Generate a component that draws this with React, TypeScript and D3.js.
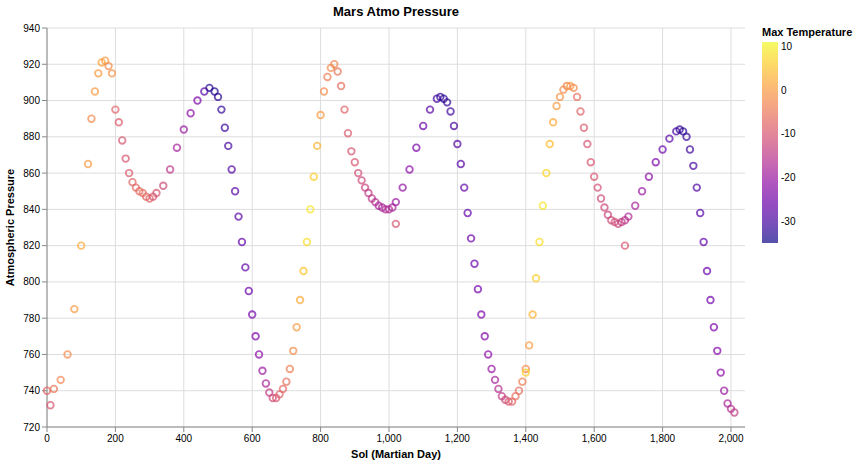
import * as d3 from "d3"

// [sol, pressure, max temperature], one array per season phase
const riseA: [number, number, number][] = [
  [0, 740, -8], [10, 732, -10], [20, 741, -5], [40, 746, -3], [60, 760, -2], [80, 785, 0], [100, 820, 2],
  [120, 865, 0], [130, 890, -2], [140, 905, 0], [150, 915, 0], [160, 921, 1], [170, 922, 0],
  [180, 919, -2], [190, 915, -1],
]
const fallB: [number, number, number][] = [
  [200, 895, -8], [210, 888, -9], [220, 878, -10], [230, 868, -10], [240, 860, -9], [250, 855, -8],
  [260, 852, -7], [270, 850, -7], [280, 849, -6], [290, 847, -7], [300, 846, -8], [310, 847, -10],
]
const riseC: [number, number, number][] = [
  [320, 849, -10], [340, 853, -12], [360, 862, -15], [380, 874, -18], [400, 884, -20], [420, 893, -22],
  [440, 900, -24], [460, 905, -28], [475, 907, -33], [490, 905, -34],
]
const fallD: [number, number, number][] = [
  [500, 902, -33], [510, 895, -32], [520, 885, -31], [530, 875, -30], [540, 862, -29], [550, 850, -28],
  [560, 836, -28], [570, 822, -27], [580, 808, -27], [590, 795, -26], [600, 782, -25], [610, 770, -24],
  [620, 760, -22], [630, 751, -20], [640, 744, -18], [650, 739, -14], [660, 736, -12], [670, 736, -10],
  [680, 738, -8], [690, 741, -7],
]
const riseE: [number, number, number][] = [
  [700, 745, -6], [710, 752, -4], [720, 762, -2], [730, 775, 0], [740, 790, 2], [750, 806, 5],
  [760, 822, 8], [770, 840, 9], [780, 858, 6], [790, 875, 3], [800, 892, 0], [810, 905, -2],
  [820, 913, -4], [830, 918, -2], [840, 920, -3], [850, 916, -5],
]
const fallF: [number, number, number][] = [
  [860, 908, -6], [870, 895, -8], [880, 882, -9], [890, 872, -10], [900, 866, -10], [910, 860, -11],
  [920, 856, -12], [930, 852, -13], [940, 849, -14], [950, 846, -15], [960, 844, -16], [970, 842, -18],
  [980, 841, -18], [990, 840, -17], [1000, 840, -17], [1010, 841, -18], [1020, 832, -10],
]
const riseG: [number, number, number][] = [
  [1020, 844, -20], [1040, 852, -21], [1060, 862, -22], [1080, 874, -24], [1100, 886, -26],
  [1120, 895, -28], [1140, 901, -30], [1150, 902, -32], [1160, 901, -33],
]
const fallH: [number, number, number][] = [
  [1170, 899, -32], [1180, 894, -31], [1190, 886, -30], [1200, 876, -29], [1210, 865, -28],
  [1220, 852, -27], [1230, 838, -27], [1240, 824, -26], [1250, 810, -26], [1260, 796, -25],
  [1270, 782, -24], [1280, 770, -23], [1290, 760, -22], [1300, 752, -20], [1310, 746, -18],
  [1320, 741, -16], [1330, 737, -14], [1340, 735, -12], [1350, 734, -10], [1360, 734, -8], [1370, 737, -6],
]
const riseI: [number, number, number][] = [
  [1380, 740, -6], [1390, 745, -4], [1400, 752, -2], [1400, 750, 6], [1410, 765, 0], [1420, 782, 3],
  [1430, 802, 6], [1440, 822, 8], [1450, 842, 9], [1460, 860, 7], [1470, 876, 4], [1480, 888, 2],
  [1490, 897, 0], [1500, 902, -1], [1510, 906, -2], [1520, 908, -3], [1530, 908, 0], [1540, 907, -2],
]
const fallJ: [number, number, number][] = [
  [1550, 902, -6], [1560, 894, -8], [1570, 885, -9], [1580, 876, -10], [1590, 866, -10], [1600, 858, -10],
  [1610, 852, -11], [1620, 846, -12], [1630, 841, -12], [1640, 837, -13], [1650, 834, -12],
  [1660, 833, -11], [1670, 832, -12], [1680, 833, -14], [1690, 834, -15], [1690, 820, -10],
]
const riseK: [number, number, number][] = [
  [1700, 836, -17], [1720, 842, -18], [1740, 850, -20], [1760, 858, -22], [1780, 866, -24],
  [1800, 873, -26], [1820, 879, -28], [1840, 883, -30], [1850, 884, -32], [1860, 883, -33],
]
const fallL: [number, number, number][] = [
  [1870, 880, -32], [1880, 873, -31], [1890, 864, -30], [1900, 852, -29], [1910, 838, -28],
  [1920, 822, -27], [1930, 806, -26], [1940, 790, -25], [1950, 775, -24], [1960, 762, -23],
  [1970, 750, -22], [1980, 740, -20], [1990, 733, -18], [2000, 730, -16], [2010, 728, -14],
]

const xTicks = d3.range(0, 2001, 200)
const yTicks = d3.range(720, 941, 20)
const legendTicks = [10, 0, -10, -20, -30]

const points = [riseA, fallB, riseC, fallD, riseE, fallF, riseG, fallH, riseI, fallJ, riseK, fallL].flat()

const margin = { left: 47, top: 28, right: 745, bottom: 427 }
const font = "Helvetica, Arial, 'Liberation Sans', sans-serif"

export default function App() {
  const x = d3.scaleLinear().domain([0, 2041]).range([margin.left, margin.right])
  const y = d3.scaleLinear().domain([720, 940]).range([margin.bottom, margin.top])
  const color = d3.scaleSequential(d3.interpolatePlasma).domain([-35, 11])
  const ly = d3.scaleLinear().domain([-35, 11]).range([243, 42])
  const stops = d3.range(0, 1.001, 0.1)

  return (
    <svg width={858} height={464} style={{ position: "absolute", left: 0, top: 0, fontFamily: font }}>
      <defs>
        <linearGradient id="lg" x1="0" y1="1" x2="0" y2="0">
          {stops.map((s) => (
            <stop key={s} offset={s} stopColor={d3.interpolatePlasma(s)} />
          ))}
        </linearGradient>
      </defs>
      <text x={(margin.left + margin.right) / 2} y={16} textAnchor="middle" fontSize={13} fontWeight="bold">
        Mars Atmo Pressure
      </text>
      {xTicks.map((t) => (
        <line key={"gx" + t} x1={x(t)} x2={x(t)} y1={margin.top} y2={margin.bottom} stroke="#ddd" />
      ))}
      {yTicks.map((t) => (
        <line key={"gy" + t} x1={margin.left} x2={margin.right} y1={y(t)} y2={y(t)} stroke="#ddd" />
      ))}
      <line x1={margin.left} x2={margin.right} y1={margin.bottom} y2={margin.bottom} stroke="#888" />
      <line x1={margin.left} x2={margin.left} y1={margin.top} y2={margin.bottom} stroke="#888" />
      {xTicks.map((t) => (
        <g key={"tx" + t}>
          <line x1={x(t)} x2={x(t)} y1={margin.bottom} y2={margin.bottom + 5} stroke="#888" />
          <text x={x(t)} y={margin.bottom + 15} textAnchor="middle" fontSize={10} fill="#000">
            {d3.format(",")(t)}
          </text>
        </g>
      ))}
      {yTicks.map((t) => (
        <g key={"ty" + t}>
          <line x1={margin.left - 5} x2={margin.left} y1={y(t)} y2={y(t)} stroke="#888" />
          <text x={margin.left - 7} y={y(t) + 3.5} textAnchor="end" fontSize={10} fill="#000">
            {t}
          </text>
        </g>
      ))}
      <text x={(margin.left + margin.right) / 2} y={458} textAnchor="middle" fontSize={11} fontWeight="bold">
        Sol (Martian Day)
      </text>
      <text
        transform={`translate(14, ${(margin.top + margin.bottom) / 2}) rotate(-90)`}
        textAnchor="middle"
        fontSize={11}
        fontWeight="bold"
      >
        Atmospheric Pressure
      </text>
      {points.map(([s, p, t], i) => (
        <circle
          key={i}
          cx={x(s)}
          cy={y(p)}
          r={3.3}
          fill="none"
          stroke={color(t)}
          strokeWidth={1.8}
          opacity={0.7}
        />
      ))}
      <text x={762} y={36} fontSize={11} fontWeight="bold">
        Max Temperature
      </text>
      <rect x={762} y={42} width={16} height={201} fill="url(#lg)" opacity={0.7} />
      {legendTicks.map((t) => (
        <text key={"l" + t} x={781} y={ly(t) + 3.5} fontSize={10}>
          {t}
        </text>
      ))}
    </svg>
  )
}
